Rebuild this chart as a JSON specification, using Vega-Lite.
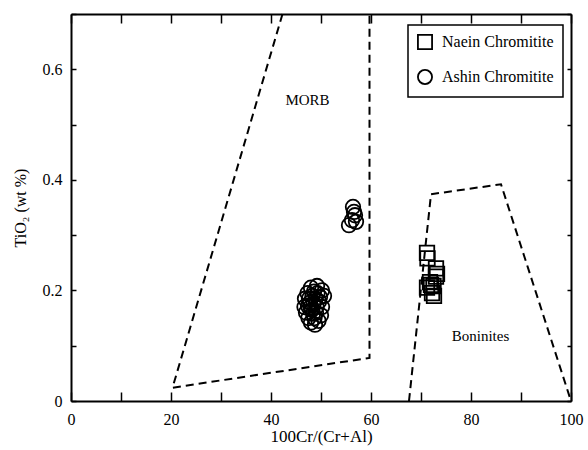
{
  "$schema": "https://vega.github.io/schema/vega-lite/v6.json",
  "width": 500,
  "height": 387,
  "autosize": "none",
  "padding": {"left": 71, "top": 14, "right": 17, "bottom": 49},
  "background": "white",
  "config": {
    "view": {"stroke": null},
    "axis": {
      "domainColor": "black",
      "domainWidth": 2,
      "tickColor": "black",
      "tickWidth": 1.5,
      "grid": false,
      "labelFont": "Liberation Serif",
      "labelFontSize": 16,
      "labelColor": "black",
      "titleFont": "Liberation Serif",
      "titleFontWeight": "normal",
      "titleColor": "black",
      "labelOverlap": false,
      "labelFlush": false,
      "labelBound": false
    },
    "legend": {
      "labelFont": "Liberation Serif",
      "labelFontSize": 16,
      "labelColor": "black",
      "strokeWidth": 1.5
    }
  },
  "datasets": {
    "poly": [
      {"g": "MORB", "o": 1, "x": 42.3, "y": 0.7},
      {"g": "MORB", "o": 2, "x": 20.3, "y": 0.024},
      {"g": "MORB", "o": 3, "x": 59.7, "y": 0.078},
      {"g": "MORB", "o": 4, "x": 59.7, "y": 0.7},
      {"g": "Bon", "o": 1, "x": 67.6, "y": 0.0},
      {"g": "Bon", "o": 2, "x": 72.0, "y": 0.374},
      {"g": "Bon", "o": 3, "x": 86.0, "y": 0.392},
      {"g": "Bon", "o": 4, "x": 100.0, "y": 0.0}
    ],
    "pts": [
      {"s": "Naein Chromitite", "x": 71.2, "y": 0.268},
      {"s": "Naein Chromitite", "x": 71.3, "y": 0.258},
      {"s": "Naein Chromitite", "x": 73.0, "y": 0.240},
      {"s": "Naein Chromitite", "x": 73.2, "y": 0.230},
      {"s": "Naein Chromitite", "x": 72.0, "y": 0.210},
      {"s": "Naein Chromitite", "x": 71.2, "y": 0.205},
      {"s": "Naein Chromitite", "x": 72.5, "y": 0.208},
      {"s": "Naein Chromitite", "x": 72.2, "y": 0.195},
      {"s": "Naein Chromitite", "x": 72.6, "y": 0.190},
      {"s": "Naein Chromitite", "x": 71.8, "y": 0.215},
      {"s": "Naein Chromitite", "x": 73.0, "y": 0.225},
      {"s": "Ashin Chromitite", "x": 56.4, "y": 0.351},
      {"s": "Ashin Chromitite", "x": 56.8, "y": 0.336},
      {"s": "Ashin Chromitite", "x": 56.2, "y": 0.327},
      {"s": "Ashin Chromitite", "x": 55.6, "y": 0.318},
      {"s": "Ashin Chromitite", "x": 57.0, "y": 0.324},
      {"s": "Ashin Chromitite", "x": 56.6, "y": 0.342},
      {"s": "Ashin Chromitite", "x": 48.0, "y": 0.205},
      {"s": "Ashin Chromitite", "x": 49.2, "y": 0.208},
      {"s": "Ashin Chromitite", "x": 50.2, "y": 0.200},
      {"s": "Ashin Chromitite", "x": 50.6, "y": 0.190},
      {"s": "Ashin Chromitite", "x": 47.3, "y": 0.195},
      {"s": "Ashin Chromitite", "x": 46.8, "y": 0.185},
      {"s": "Ashin Chromitite", "x": 46.7, "y": 0.170},
      {"s": "Ashin Chromitite", "x": 47.0, "y": 0.160},
      {"s": "Ashin Chromitite", "x": 47.5, "y": 0.150},
      {"s": "Ashin Chromitite", "x": 48.0, "y": 0.142},
      {"s": "Ashin Chromitite", "x": 48.8, "y": 0.138},
      {"s": "Ashin Chromitite", "x": 49.5, "y": 0.145},
      {"s": "Ashin Chromitite", "x": 50.0, "y": 0.155},
      {"s": "Ashin Chromitite", "x": 50.2, "y": 0.170},
      {"s": "Ashin Chromitite", "x": 49.6, "y": 0.180},
      {"s": "Ashin Chromitite", "x": 48.3, "y": 0.190},
      {"s": "Ashin Chromitite", "x": 48.5, "y": 0.175},
      {"s": "Ashin Chromitite", "x": 47.8, "y": 0.178},
      {"s": "Ashin Chromitite", "x": 48.2, "y": 0.165},
      {"s": "Ashin Chromitite", "x": 49.0, "y": 0.160},
      {"s": "Ashin Chromitite", "x": 48.7, "y": 0.150},
      {"s": "Ashin Chromitite", "x": 47.6, "y": 0.185},
      {"s": "Ashin Chromitite", "x": 49.3, "y": 0.195},
      {"s": "Ashin Chromitite", "x": 48.9, "y": 0.185},
      {"s": "Ashin Chromitite", "x": 47.9, "y": 0.170},
      {"s": "Ashin Chromitite", "x": 49.1, "y": 0.170},
      {"s": "Ashin Chromitite", "x": 48.4, "y": 0.158},
      {"s": "Ashin Chromitite", "x": 47.4, "y": 0.172},
      {"s": "Ashin Chromitite", "x": 49.8, "y": 0.188},
      {"s": "Ashin Chromitite", "x": 48.6, "y": 0.198}
    ],
    "labels": [
      {"t": "MORB", "x": 47.3, "y": 0.544},
      {"t": "Boninites", "x": 81.9, "y": 0.118}
    ]
  },
  "resolve": {"axis": {"x": "independent", "y": "independent"}},
  "layer": [
    {
      "data": {"name": "poly"},
      "mark": {"type": "line", "color": "black", "strokeWidth": 2, "strokeDash": [8, 5]},
      "encoding": {
        "x": {
          "field": "x", "type": "quantitative",
          "scale": {"domain": [0, 100], "nice": false},
          "axis": {
            "orient": "bottom",
            "values": [0, 10, 20, 30, 40, 50, 60, 70, 80, 90, 100],
            "tickSize": -9,
            "labelPadding": 19,
            "labelExpr": "datum.value % 20 == 0 ? datum.label : ''",
            "title": "100Cr/(Cr+Al)",
            "titleFontSize": 17,
            "titlePadding": 1
          }
        },
        "y": {
          "field": "y", "type": "quantitative",
          "scale": {"domain": [0, 0.7], "nice": false},
          "axis": {
            "orient": "left",
            "values": [0, 0.1, 0.2, 0.3, 0.4, 0.5, 0.6, 0.7],
            "tickSize": -5,
            "labelPadding": 14,
            "labelExpr": "round(datum.value * 10) % 2 == 0 ? format(datum.value, '~g') : ''",
            "title": "TiO₂ (wt %)",
            "titleFontSize": 16,
            "titlePadding": 14
          }
        },
        "detail": {"field": "g"},
        "order": {"field": "o"}
      }
    },
    {
      "data": {"name": "pts"},
      "mark": {"type": "point", "filled": false, "color": "black", "strokeWidth": 1.8, "size": 210, "opacity": 1},
      "encoding": {
        "x": {
          "field": "x", "type": "quantitative",
          "scale": {"domain": [0, 100], "nice": false},
          "axis": {
            "orient": "top",
            "values": [0, 10, 20, 30, 40, 50, 60, 70, 80, 90, 100],
            "tickSize": -9,
            "labels": false,
            "title": null
          }
        },
        "y": {
          "field": "y", "type": "quantitative",
          "scale": {"domain": [0, 0.7], "nice": false},
          "axis": {
            "orient": "right",
            "values": [0, 0.1, 0.2, 0.3, 0.4, 0.5, 0.6, 0.7],
            "tickSize": -4,
            "labels": false,
            "title": null
          }
        },
        "shape": {
          "field": "s", "type": "nominal",
          "scale": {"domain": ["Naein Chromitite", "Ashin Chromitite"], "range": ["square", "circle"]},
          "legend": {
            "title": null,
            "orient": "none",
            "legendX": 337,
            "legendY": 11,
            "padding": 9,
            "strokeColor": "black",
            "fillColor": "white",
            "labelFont": "Liberation Serif",
            "labelFontSize": 16,
            "labelColor": "black",
            "symbolSize": 200,
            "symbolStrokeColor": "black",
            "symbolFillColor": "white",
            "symbolStrokeWidth": 1.8,
            "rowPadding": 13,
            "labelOffset": 9
          }
        }
      }
    },
    {
      "data": {"name": "labels"},
      "mark": {"type": "text", "font": "Liberation Serif", "fontSize": 15, "color": "black"},
      "encoding": {
        "x": {"field": "x", "type": "quantitative", "scale": {"domain": [0, 100], "nice": false}, "axis": null},
        "y": {"field": "y", "type": "quantitative", "scale": {"domain": [0, 0.7], "nice": false}, "axis": null},
        "text": {"field": "t"}
      }
    }
  ]
}
